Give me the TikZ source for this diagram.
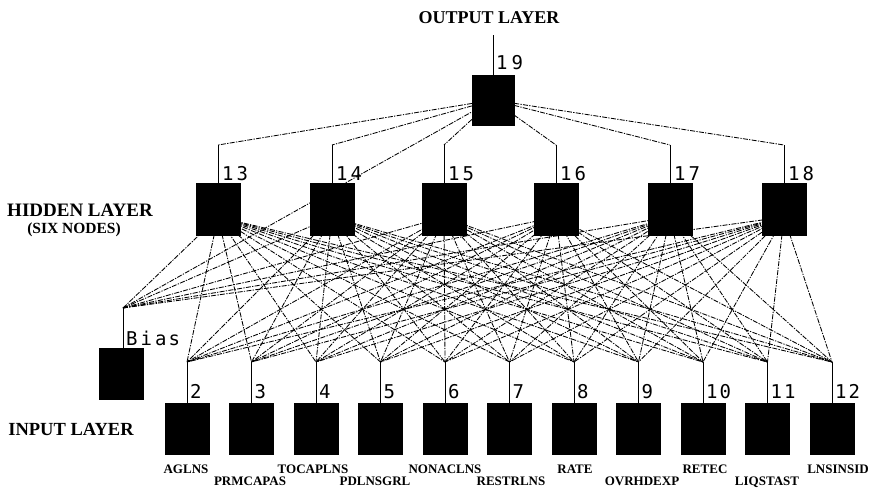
\documentclass[tikz,border=0pt]{standalone}
\usepackage{fontspec}
\setmainfont{Liberation Serif}
\newfontfamily\plotfont{DejaVu Sans Mono}
\begin{document}
\begin{tikzpicture}[x=1pt,y=-1pt,
  unit/.style={rectangle, fill=black, draw=black, minimum width=44pt, minimum height=51pt, inner sep=0pt},
  wire/.style={line width=0.85pt, dash pattern=on 5pt off 1.3pt on 1.3pt off 1.3pt},
  stemline/.style={line width=1pt},
  num/.style={font=\plotfont\fontsize{19}{19}\selectfont, anchor=base west, inner sep=0pt},
  layer/.style={font=\bfseries\fontsize{18.5}{20}\selectfont, inner sep=0pt, anchor=base},
  var/.style={font=\bfseries\fontsize{13}{14}\selectfont, inner sep=0pt, anchor=base}]
\useasboundingbox (0,0) rectangle (871,488);

% ---------- coordinates ----------
\coordinate (top19) at (493,35);
\foreach \k/\x in {13/218,14/332,15/444,16/556,17/670,18/784}{
  \coordinate (t\k) at (\x,145);
  \coordinate (ho\k) at (\x,217);
}
\foreach \i in {2,...,12}{
  \pgfmathsetmacro{\xx}{187+64.5*(\i-2)}
  \coordinate (j\i) at (\xx,362);
}
\coordinate (jb) at (123,308);

% ---------- nodes ----------
\node[unit, minimum width=42pt, minimum height=50pt] (out19) at (493,100) {};
\foreach \k/\x in {13/218,14/332,15/444,16/556,17/670,18/784}{
  \node[unit, minimum height=52pt] (h\k) at (\x,209) {};
}
\foreach \i in {2,...,12}{
  \pgfmathsetmacro{\xx}{187+64.5*(\i-2)}
  \node[unit] (in\i) at (\xx,428.5) {};
}
\node[unit] (bias) at (121.5,373.5) {};

% ---------- connectors ----------
\foreach \k in {13,...,18}{
  \draw[wire] (out19) -- (t\k);
  \draw[stemline] (t\k) -- (h\k.north);
  \foreach \i in {2,...,12}{
    \draw[wire] (ho\k) -- (j\i);
  }
  \draw[wire] (jb) -- (ho\k);
}
\draw[wire] (jb) -- (out19);
\foreach \i in {2,...,12}{
  \draw[stemline] (j\i) -- (in\i.north);
}
\draw[stemline] (jb) -- (bias.north -| jb);
\draw[stemline] (top19) -- (out19.north);

% ---------- number labels ----------
\node[num] (l19) at (496,69) {1\hspace{4pt}9};
\foreach \k/\x in {13/218,14/332,15/444,16/556,17/670,18/784}{
  \pgfmathtruncatemacro{\d}{\k-10}
  \node[num] (l\k) at (\x+4,180) {1\hspace{3pt}\d};
}
\foreach \i in {2,...,9}{
  \pgfmathsetmacro{\xx}{187+64.5*(\i-2)+3}
  \node[num] (l\i) at (\xx,398) {\i};
}
\foreach \i in {10,11,12}{
  \pgfmathsetmacro{\xx}{187+64.5*(\i-2)+3}
  \pgfmathtruncatemacro{\d}{\i-10}
  \node[num] (l\i) at (\xx,398) {1\hspace{2pt}\d};
}
\node[num] (lbias) at (126,345) {B\hspace{3pt}i\hspace{3pt}a\hspace{2pt}s};

% ---------- layer titles ----------
\node[layer, font=\bfseries\fontsize{18}{20}\selectfont] (tout) at (489,23) {OUTPUT LAYER};
\node[layer, font=\bfseries\fontsize{19}{20}\selectfont] (thid) at (80,216) {HIDDEN LAYER};
\node[layer, font=\bfseries\fontsize{15.5}{17}\selectfont] (tsix) at (74,233) {(SIX NODES)};
\node[layer] (tin) at (71,435) {INPUT LAYER};

% ---------- variable names ----------
\node[var] (v2) at (186,473) {AGLNS};
\node[var] (v3) at (250,485) {PRMCAPAS};
\node[var] (v4) at (313,473) {TOCAPLNS};
\node[var] (v5) at (375,485) {PDLNSGRL};
\node[var] (v6) at (445,473) {NONACLNS};
\node[var] (v7) at (511,485) {RESTRLNS};
\node[var] (v8) at (575,473) {RATE};
\node[var] (v9) at (642,485) {OVRHDEXP};
\node[var] (v10) at (705,473) {RETEC};
\node[var] (v11) at (767,485) {LIQSTAST};
\node[var] (v12) at (838,473) {LNSINSID};
\end{tikzpicture}
\end{document}
